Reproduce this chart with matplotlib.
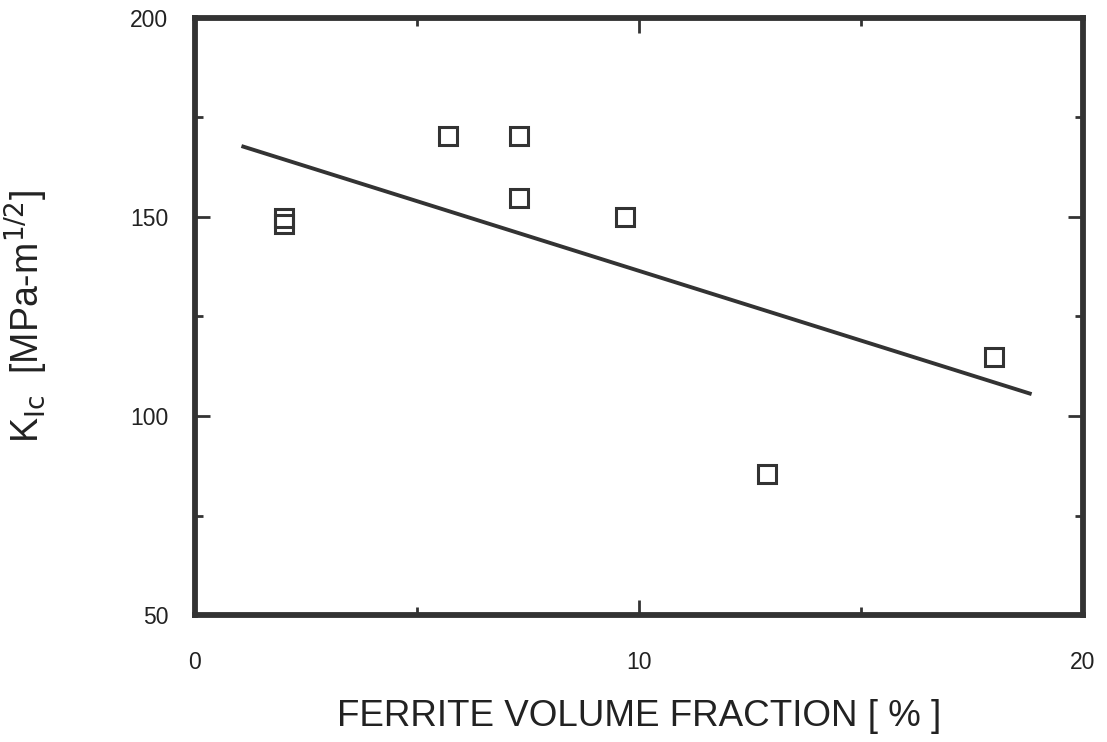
import matplotlib
matplotlib.use("Agg")
import matplotlib.pyplot as plt
from matplotlib.ticker import MultipleLocator

plt.rcParams['font.family'] = ['Liberation Sans', 'DejaVu Sans']

# data
ferrite = [2.0, 2.0, 5.7, 7.3, 7.3, 9.7, 12.9, 18.0]
k_ic = [149.7, 148.2, 170.2, 170.2, 154.8, 150.0, 85.5, 114.8]
fit_x = [1.05, 18.85]
fit_y = [167.8, 105.5]

ink = '#333333'

fig = plt.figure(figsize=(11.07, 7.42), dpi=100)
ax = fig.add_axes([0.176, 0.171, 0.802, 0.805])

ax.plot(fit_x, fit_y, color=ink, lw=2.8, solid_capstyle='butt')
ax.plot(ferrite, k_ic, ls='none', marker='s', ms=13, mfc='none',
        mec=ink, mew=2.2)

ax.set_xlim(0, 20)
ax.set_ylim(50, 200)
ax.xaxis.set_major_locator(MultipleLocator(10))
ax.xaxis.set_minor_locator(MultipleLocator(5))
ax.yaxis.set_major_locator(MultipleLocator(50))
ax.yaxis.set_minor_locator(MultipleLocator(25))

ax.tick_params(which='both', direction='in', top=True, right=True,
               color=ink, labelcolor='#222222', labelsize=16.5)
ax.tick_params(which='major', length=11, width=2)
ax.tick_params(which='minor', length=6, width=2)
ax.tick_params(axis='x', which='major', pad=26)
ax.tick_params(axis='y', which='major', pad=19)

for s in ax.spines.values():
    s.set_linewidth(4.2)
    s.set_color(ink)

ax.set_xlabel('FERRITE VOLUME FRACTION [ % ]', fontsize=26.5,
              color='#222222', labelpad=18)
ax.set_ylabel(r'K$_{\rm Ic}$  [MPa-m$^{1/2}$]', fontsize=27,
              color='#222222', labelpad=58)

fig.savefig('out.png', dpi=100)
